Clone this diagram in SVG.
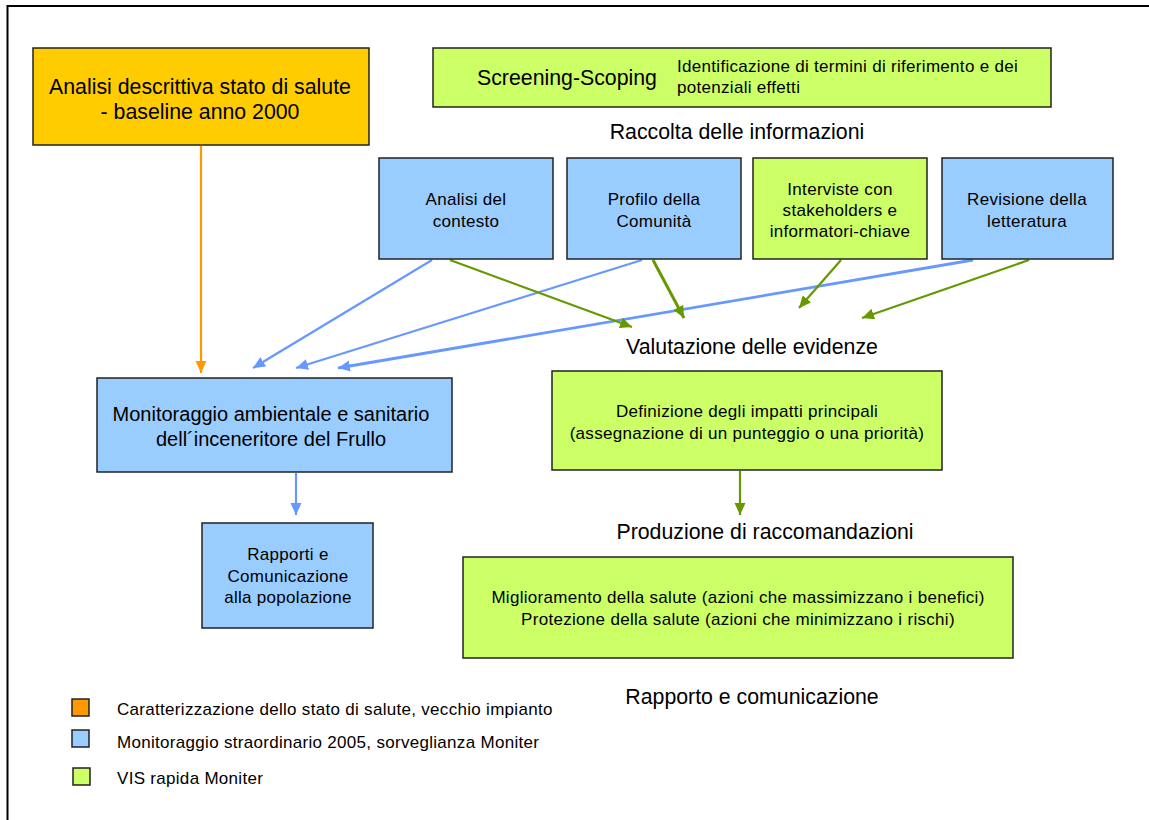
<svg xmlns="http://www.w3.org/2000/svg" width="1149" height="820" viewBox="0 0 1149 820">
<style>
text{font-family:"Liberation Sans",Arial,sans-serif;fill:#000;text-anchor:middle}
.box{stroke:#222;stroke-width:1.5}
.or{fill:#FFCC00}.bl{fill:#99CCFF}.gr{fill:#CCFF66}
.lb{fill:none;stroke:#6699FF;stroke-width:2.2}
.lg{fill:none;stroke:#669900;stroke-width:2.2}
.lo{fill:none;stroke:#FF9900;stroke-width:2.2}
.h{font-size:21.3px}
.s{font-size:17px;letter-spacing:0.3px}
.t{font-size:21.3px}
.m{font-size:20px}
</style>
<defs>
<marker id="ab" markerUnits="userSpaceOnUse" markerWidth="13" markerHeight="12" refX="12" refY="5.5" orient="auto"><path d="M0,0 L12,5.5 L0,11 Z" fill="#6699FF"/></marker>
<marker id="ag" markerUnits="userSpaceOnUse" markerWidth="13" markerHeight="12" refX="12" refY="5.5" orient="auto"><path d="M0,0 L12,5.5 L0,11 Z" fill="#669900"/></marker>
<marker id="ao" markerUnits="userSpaceOnUse" markerWidth="13" markerHeight="12" refX="12" refY="5.5" orient="auto"><path d="M0,0 L12,5.5 L0,11 Z" fill="#FF9900"/></marker>
</defs>
<rect x="0" y="0" width="1149" height="820" fill="#fff"/>
<rect x="7.5" y="6" width="1160" height="830" fill="none" stroke="#000" stroke-width="2"/>

<g id="connectors">
<path class="lo" d="M201,146 L201,373" marker-end="url(#ao)"/>
<path class="lb" d="M432,260 L253,368" marker-end="url(#ab)"/>
<path class="lb" d="M642,260 L296,368" marker-end="url(#ab)"/>
<path class="lb" d="M973,260 L338,368" marker-end="url(#ab)" style="stroke-width:2.8"/>
<path class="lg" d="M450,260 L632,327" marker-end="url(#ag)"/>
<path class="lg" d="M653,260 L684,318" marker-end="url(#ag)" style="stroke-width:3"/>
<path class="lg" d="M841,260 L799,308" marker-end="url(#ag)"/>
<path class="lg" d="M1029,260 L862,318" marker-end="url(#ag)"/>
<path class="lg" d="M740,471 L740,515" marker-end="url(#ag)"/>
<path class="lb" d="M296,473 L296,515" marker-end="url(#ab)"/>
</g>

<g id="baseline">
<rect class="box or" x="33" y="48" width="336" height="97"/>
<text class="t" x="200" y="94">Analisi descrittiva stato di salute</text>
<text class="t" x="200" y="119">- baseline anno 2000</text>
</g>

<g id="screening">
<rect class="box gr" x="433" y="48" width="618" height="59"/>
<text class="t" x="567" y="85">Screening-Scoping</text>
<text class="s" x="677" y="72" style="text-anchor:start">Identificazione di termini di riferimento e dei</text>
<text class="s" x="677" y="93" style="text-anchor:start">potenziali effetti</text>
</g>

<g id="lbl-raccolta"><text class="h" x="737" y="139">Raccolta delle informazioni</text></g>

<g id="analisi">
<rect class="box bl" x="379" y="158" width="174" height="101"/>
<text class="s" x="466" y="205">Analisi del</text>
<text class="s" x="466" y="227">contesto</text>
</g>
<g id="profilo">
<rect class="box bl" x="567" y="158" width="174" height="101"/>
<text class="s" x="654" y="205">Profilo della</text>
<text class="s" x="654" y="227">Comunità</text>
</g>
<g id="interviste">
<rect class="box gr" x="753" y="158" width="174" height="101"/>
<text class="s" x="840" y="195">Interviste con</text>
<text class="s" x="840" y="216">stakeholders e</text>
<text class="s" x="840" y="237">informatori-chiave</text>
</g>
<g id="revisione">
<rect class="box bl" x="942" y="158" width="171" height="101"/>
<text class="s" x="1027" y="205">Revisione della</text>
<text class="s" x="1027" y="227">letteratura</text>
</g>

<g id="lbl-valutazione"><text class="h" x="752" y="354">Valutazione delle evidenze</text></g>

<g id="monitoraggio">
<rect class="box bl" x="97" y="378" width="355" height="94"/>
<text class="m" x="271" y="421">Monitoraggio ambientale e sanitario</text>
<text class="m" x="271" y="446">dell´inceneritore del Frullo</text>
</g>

<g id="definizione">
<rect class="box gr" x="552" y="371" width="390" height="99"/>
<text class="s" x="747" y="417">Definizione degli impatti principali</text>
<text class="s" x="747" y="439">(assegnazione di un punteggio o una priorità)</text>
</g>

<g id="rapporti">
<rect class="box bl" x="202" y="523" width="171" height="105"/>
<text class="s" x="288" y="560">Rapporti e</text>
<text class="s" x="288" y="582">Comunicazione</text>
<text class="s" x="288" y="603">alla popolazione</text>
</g>

<g id="lbl-produzione"><text class="h" x="765" y="539">Produzione di raccomandazioni</text></g>

<g id="miglioramento">
<rect class="box gr" x="463" y="557" width="550" height="101"/>
<text class="s" x="738" y="603">Miglioramento della salute (azioni che massimizzano i benefici)</text>
<text class="s" x="738" y="625">Protezione della salute (azioni che minimizzano i rischi)</text>
</g>

<g id="lbl-rapporto"><text class="h" x="752" y="704">Rapporto e comunicazione</text></g>

<g id="legend">
<rect class="box" x="72" y="699" width="17" height="17" fill="#FF9900"/>
<text class="s" x="117" y="715" style="text-anchor:start">Caratterizzazione dello stato di salute, vecchio impianto</text>
<rect class="box" x="72" y="730" width="17" height="17" fill="#99CCFF"/>
<text class="s" x="117" y="748" style="text-anchor:start">Monitoraggio straordinario 2005, sorveglianza Moniter</text>
<rect class="box" x="73" y="768" width="17" height="17" fill="#CCFF66"/>
<text class="s" x="117" y="784" style="text-anchor:start">VIS rapida Moniter</text>
</g>
</svg>
